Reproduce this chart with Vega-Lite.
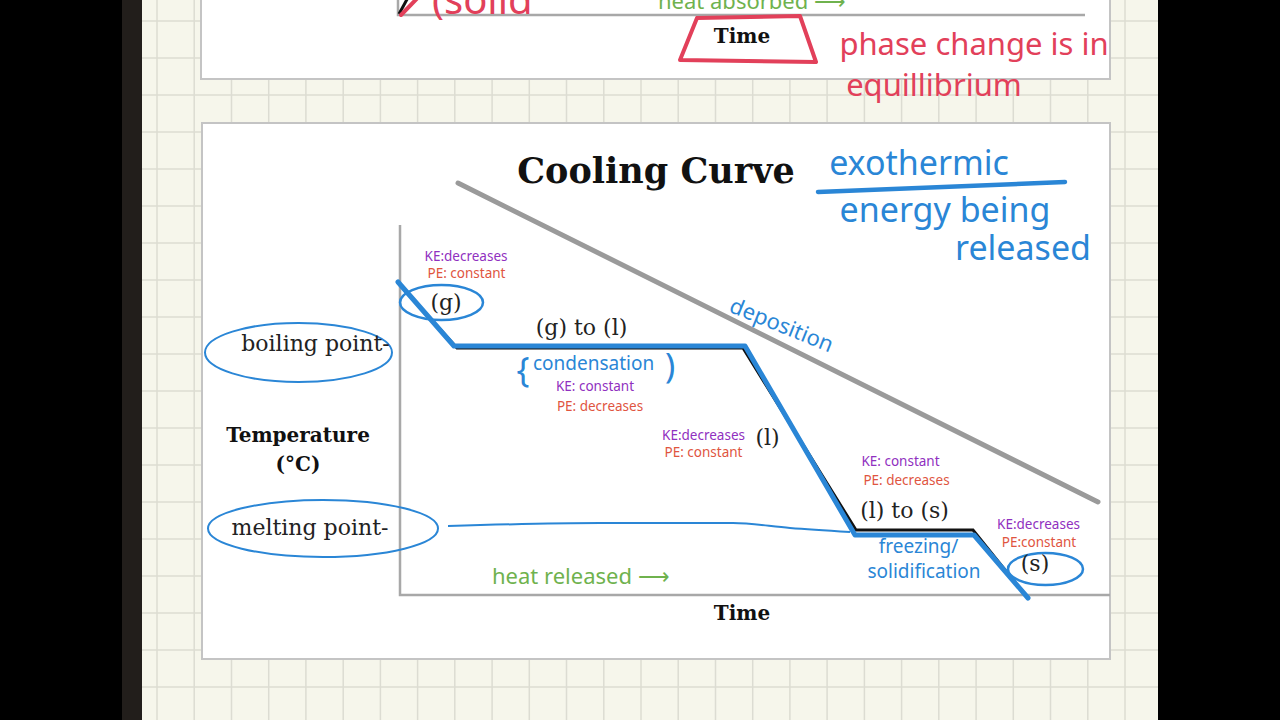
{
  "$schema": "https://vega.github.io/schema/vega-lite/v6.json",
  "width": 1280,
  "height": 720,
  "autosize": {"type": "none"},
  "padding": 0,
  "background": "#000000",
  "config": {"view": {"stroke": null}},
  "datasets": {
    "rects": [
      {"n": "strip", "t": -27.8, "temp": 119, "t2": -25.8, "temp2": -25},
      {"n": "paper", "t": -25.8, "temp": 119, "t2": 75.8, "temp2": -25},
      {"n": "card", "t": -19.9, "temp": 121, "t2": 71, "temp2": 103.2},
      {"n": "card", "t": -19.8, "temp": 94.4, "t2": 71, "temp2": -12.8}
    ],
    "grid": [
      {"t": -24.3, "temp": 119, "t2": -24.3, "temp2": -25},
      {"t": -20.58, "temp": 119, "t2": -20.58, "temp2": -25},
      {"t": -16.85, "temp": 119, "t2": -16.85, "temp2": -25},
      {"t": -13.13, "temp": 119, "t2": -13.13, "temp2": -25},
      {"t": -9.41, "temp": 119, "t2": -9.41, "temp2": -25},
      {"t": -5.68, "temp": 119, "t2": -5.68, "temp2": -25},
      {"t": -1.96, "temp": 119, "t2": -1.96, "temp2": -25},
      {"t": 1.76, "temp": 119, "t2": 1.76, "temp2": -25},
      {"t": 5.48, "temp": 119, "t2": 5.48, "temp2": -25},
      {"t": 9.21, "temp": 119, "t2": 9.21, "temp2": -25},
      {"t": 12.93, "temp": 119, "t2": 12.93, "temp2": -25},
      {"t": 16.65, "temp": 119, "t2": 16.65, "temp2": -25},
      {"t": 20.38, "temp": 119, "t2": 20.38, "temp2": -25},
      {"t": 24.1, "temp": 119, "t2": 24.1, "temp2": -25},
      {"t": 27.82, "temp": 119, "t2": 27.82, "temp2": -25},
      {"t": 31.55, "temp": 119, "t2": 31.55, "temp2": -25},
      {"t": 35.27, "temp": 119, "t2": 35.27, "temp2": -25},
      {"t": 38.99, "temp": 119, "t2": 38.99, "temp2": -25},
      {"t": 42.71, "temp": 119, "t2": 42.71, "temp2": -25},
      {"t": 46.44, "temp": 119, "t2": 46.44, "temp2": -25},
      {"t": 50.16, "temp": 119, "t2": 50.16, "temp2": -25},
      {"t": 53.88, "temp": 119, "t2": 53.88, "temp2": -25},
      {"t": 57.61, "temp": 119, "t2": 57.61, "temp2": -25},
      {"t": 61.33, "temp": 119, "t2": 61.33, "temp2": -25},
      {"t": 65.05, "temp": 119, "t2": 65.05, "temp2": -25},
      {"t": 68.78, "temp": 119, "t2": 68.78, "temp2": -25},
      {"t": 72.5, "temp": 119, "t2": 72.5, "temp2": -25},
      {"t": -25.8, "temp": 114.8, "t2": 75.8, "temp2": 114.8},
      {"t": -25.8, "temp": 107.4, "t2": 75.8, "temp2": 107.4},
      {"t": -25.8, "temp": 100, "t2": 75.8, "temp2": 100},
      {"t": -25.8, "temp": 92.6, "t2": 75.8, "temp2": 92.6},
      {"t": -25.8, "temp": 85.2, "t2": 75.8, "temp2": 85.2},
      {"t": -25.8, "temp": 77.8, "t2": 75.8, "temp2": 77.8},
      {"t": -25.8, "temp": 70.4, "t2": 75.8, "temp2": 70.4},
      {"t": -25.8, "temp": 63, "t2": 75.8, "temp2": 63},
      {"t": -25.8, "temp": 55.6, "t2": 75.8, "temp2": 55.6},
      {"t": -25.8, "temp": 48.2, "t2": 75.8, "temp2": 48.2},
      {"t": -25.8, "temp": 40.8, "t2": 75.8, "temp2": 40.8},
      {"t": -25.8, "temp": 33.4, "t2": 75.8, "temp2": 33.4},
      {"t": -25.8, "temp": 26, "t2": 75.8, "temp2": 26},
      {"t": -25.8, "temp": 18.6, "t2": 75.8, "temp2": 18.6},
      {"t": -25.8, "temp": 11.2, "t2": 75.8, "temp2": 11.2},
      {"t": -25.8, "temp": 3.8, "t2": 75.8, "temp2": 3.8},
      {"t": -25.8, "temp": -3.6, "t2": 75.8, "temp2": -3.6},
      {"t": -25.8, "temp": -11, "t2": 75.8, "temp2": -11},
      {"t": -25.8, "temp": -18.4, "t2": 75.8, "temp2": -18.4}
    ],
    "lines": [
      {"s": "topAxis", "i": 0, "t": -0.2, "temp": 120},
      {"s": "topAxis", "i": 1, "t": -0.2, "temp": 116},
      {"s": "topAxis", "i": 2, "t": 68.5, "temp": 116},
      {"s": "mainAxes", "i": 0, "t": 0, "temp": 74},
      {"s": "mainAxes", "i": 1, "t": 0, "temp": 0},
      {"s": "mainAxes", "i": 2, "t": 71, "temp": 0},
      {"s": "prevBlack", "i": 0, "t": -0.1, "temp": 116.2},
      {"s": "prevBlack", "i": 1, "t": 0.8, "temp": 119.5},
      {"s": "prevRed", "i": 0, "t": 0.1, "temp": 116},
      {"s": "prevRed", "i": 1, "t": 1.8, "temp": 119.5},
      {"s": "trap", "i": 0, "t": 29.7, "temp": 115.4},
      {"s": "trap", "i": 1, "t": 40, "temp": 115.8},
      {"s": "trap", "i": 2, "t": 41.6, "temp": 106.6},
      {"s": "trap", "i": 3, "t": 28, "temp": 107},
      {"s": "trap", "i": 4, "t": 29.7, "temp": 115.4},
      {"s": "deposition", "i": 0, "t": 5.8, "temp": 82.4},
      {"s": "deposition", "i": 1, "t": 69.8, "temp": 18.6},
      {"s": "curveBlack", "i": 0, "t": 0.2, "temp": 61.6},
      {"s": "curveBlack", "i": 1, "t": 5.7, "temp": 49.4},
      {"s": "curveBlack", "i": 2, "t": 34.3, "temp": 49.4},
      {"s": "curveBlack", "i": 3, "t": 45.6, "temp": 13},
      {"s": "curveBlack", "i": 4, "t": 57.3, "temp": 13},
      {"s": "curveBlack", "i": 5, "t": 62.6, "temp": -0.2},
      {"s": "curveBlue", "i": 0, "t": -0.2, "temp": 62.6},
      {"s": "curveBlue", "i": 1, "t": 5.4, "temp": 49.8},
      {"s": "curveBlue", "i": 2, "t": 34.5, "temp": 49.8},
      {"s": "curveBlue", "i": 3, "t": 45.5, "temp": 12},
      {"s": "curveBlue", "i": 4, "t": 57.4, "temp": 12},
      {"s": "curveBlue", "i": 5, "t": 62.8, "temp": -0.6},
      {"s": "meltLine", "i": 0, "t": 4.8, "temp": 13.8},
      {"s": "meltLine", "i": 1, "t": 20, "temp": 14.4},
      {"s": "meltLine", "i": 2, "t": 33.3, "temp": 14.4},
      {"s": "meltLine", "i": 3, "t": 39, "temp": 13.4},
      {"s": "meltLine", "i": 4, "t": 45, "temp": 12.6},
      {"s": "exoUnder", "i": 0, "t": 41.8, "temp": 80.6},
      {"s": "exoUnder", "i": 1, "t": 66.5, "temp": 82.6}
    ],
    "ells": [
      {"e": "boil", "t": -10.15, "temp": 48.5},
      {"e": "melt", "t": -7.7, "temp": 13.3},
      {"e": "gas", "t": 4.15, "temp": 58.5},
      {"e": "solid", "t": 64.55, "temp": 5.2}
    ],
    "texts": [
      {"g": "title", "t": 25.6, "temp": 84.6, "label": "Cooling Curve"},
      {"g": "serifBold", "t": 34.2, "temp": -3.8, "label": "Time"},
      {"g": "serifBold", "t": -10.2, "temp": 31.8, "label": "Temperature"},
      {"g": "serifBold", "t": -10.2, "temp": 26, "label": "(°C)"},
      {"g": "serifBold", "t": 34.2, "temp": 111.6, "label": "Time"},
      {"g": "serif", "t": -8.45, "temp": 50.2, "label": "boiling point-"},
      {"g": "serif", "t": -9, "temp": 13.4, "label": "melting point-"},
      {"g": "serif", "t": 4.6, "temp": 58.4, "label": "(g)"},
      {"g": "serif", "t": 18.15, "temp": 53.4, "label": "(g) to (l)"},
      {"g": "serif", "t": 36.75, "temp": 31.4, "label": "(l)"},
      {"g": "serif", "t": 50.45, "temp": 16.8, "label": "(l) to (s)"},
      {"g": "serif", "t": 63.5, "temp": 6.2, "label": "(s)"},
      {"g": "ke", "t": 6.6, "temp": 67.6, "label": "KE:decreases"},
      {"g": "ke", "t": 19.5, "temp": 41.6, "label": "KE: constant"},
      {"g": "ke", "t": 30.35, "temp": 31.8, "label": "KE:decreases"},
      {"g": "ke", "t": 50.05, "temp": 26.6, "label": "KE: constant"},
      {"g": "ke", "t": 63.85, "temp": 14, "label": "KE:decreases"},
      {"g": "pe", "t": 6.65, "temp": 64.2, "label": "PE: constant"},
      {"g": "pe", "t": 20, "temp": 37.6, "label": "PE: decreases"},
      {"g": "pe", "t": 30.35, "temp": 28.4, "label": "PE: constant"},
      {"g": "pe", "t": 50.65, "temp": 22.8, "label": "PE: decreases"},
      {"g": "pe", "t": 63.9, "temp": 10.4, "label": "PE:constant"},
      {"g": "blueMed", "t": 19.35, "temp": 46.2, "label": "condensation"},
      {"g": "blueMed", "t": 51.85, "temp": 9.6, "label": "freezing/"},
      {"g": "blueMed", "t": 52.4, "temp": 4.6, "label": "solidification"},
      {"g": "bracket", "t": 12.3, "temp": 44.6, "label": "{"},
      {"g": "bracket", "t": 27, "temp": 45.4, "label": ")"},
      {"g": "depo", "t": 38.15, "temp": 53.9, "label": "deposition"},
      {"g": "blueBig", "t": 51.9, "temp": 86, "label": "exothermic"},
      {"g": "blueBig", "t": 54.5, "temp": 76.6, "label": "energy being"},
      {"g": "blueBig", "t": 62.3, "temp": 69, "label": "released"},
      {"g": "green", "t": 9.2, "temp": 3.6, "label": "heat released  ⟶"},
      {"g": "greenTop", "t": 25.8, "temp": 117.2, "label": "heat absorbed  ⟶"},
      {"g": "redTop", "t": 3.2, "temp": 116.2, "label": "(solid"},
      {"g": "redBig", "t": 57.4, "temp": 109.8, "label": "phase change is in"},
      {"g": "redBig", "t": 53.4, "temp": 101.6, "label": "equillibrium"}
    ]
  },
  "encoding": {
    "x": {"field": "t", "type": "quantitative", "scale": {"domain": [-40, 88], "nice": false, "zero": false}, "axis": null},
    "y": {"field": "temp", "type": "quantitative", "scale": {"domain": [-25, 119], "nice": false, "zero": false}, "axis": null}
  },
  "layer": [
    {"data": {"name": "rects"}, "transform": [{"filter": "datum.n == 'strip'"}], "mark": {"type": "rect", "fill": "#221e1b"}, "encoding": {"x2": {"field": "t2"}, "y2": {"field": "temp2"}}},
    {"data": {"name": "rects"}, "transform": [{"filter": "datum.n == 'paper'"}], "mark": {"type": "rect", "fill": "#f6f6eb"}, "encoding": {"x2": {"field": "t2"}, "y2": {"field": "temp2"}}},
    {"data": {"name": "grid"}, "mark": {"type": "rule", "color": "#dcdcd2", "strokeWidth": 1.5}, "encoding": {"x2": {"field": "t2"}, "y2": {"field": "temp2"}}},
    {"data": {"name": "rects"}, "transform": [{"filter": "datum.n == 'card'"}], "mark": {"type": "rect", "fill": "#ffffff", "stroke": "#c4c4c4", "strokeWidth": 2}, "encoding": {"x2": {"field": "t2"}, "y2": {"field": "temp2"}}},
    {"data": {"name": "lines"}, "transform": [{"filter": "datum.s == 'topAxis' || datum.s == 'mainAxes'"}], "mark": {"type": "line", "color": "#a8a8a8", "strokeWidth": 2.5}, "encoding": {"detail": {"field": "s"}, "order": {"field": "i", "type": "quantitative"}}},
    {"data": {"name": "lines"}, "transform": [{"filter": "datum.s == 'deposition'"}], "mark": {"type": "line", "color": "#9a9a9a", "strokeWidth": 5, "strokeCap": "round"}, "encoding": {"order": {"field": "i", "type": "quantitative"}}},
    {"data": {"name": "lines"}, "transform": [{"filter": "datum.s == 'prevBlack'"}], "mark": {"type": "line", "color": "#111111", "strokeWidth": 3}, "encoding": {"order": {"field": "i", "type": "quantitative"}}},
    {"data": {"name": "lines"}, "transform": [{"filter": "datum.s == 'prevRed' || datum.s == 'trap'"}], "mark": {"type": "line", "color": "#e2405a", "strokeWidth": 4, "strokeCap": "round", "strokeJoin": "round"}, "encoding": {"detail": {"field": "s"}, "order": {"field": "i", "type": "quantitative"}}},
    {"data": {"name": "lines"}, "transform": [{"filter": "datum.s == 'curveBlack'"}], "mark": {"type": "line", "color": "#111111", "strokeWidth": 3}, "encoding": {"order": {"field": "i", "type": "quantitative"}}},
    {"data": {"name": "lines"}, "transform": [{"filter": "datum.s == 'curveBlue'"}], "mark": {"type": "line", "color": "#2a86d6", "strokeWidth": 5, "strokeCap": "round", "strokeJoin": "round"}, "encoding": {"order": {"field": "i", "type": "quantitative"}}},
    {"data": {"name": "lines"}, "transform": [{"filter": "datum.s == 'meltLine'"}], "mark": {"type": "line", "color": "#2a86d6", "strokeWidth": 2, "interpolate": "monotone"}, "encoding": {"order": {"field": "i", "type": "quantitative"}}},
    {"data": {"name": "lines"}, "transform": [{"filter": "datum.s == 'exoUnder'"}], "mark": {"type": "line", "color": "#2a86d6", "strokeWidth": 4.5, "strokeCap": "round"}, "encoding": {"order": {"field": "i", "type": "quantitative"}}},
    {"data": {"name": "ells"}, "transform": [{"filter": "datum.e == 'boil'"}], "mark": {"type": "point", "shape": "M-1,0A1,0.3155,0,1,1,1,0A1,0.3155,0,1,1,-1,0Z", "size": 34969, "filled": false, "stroke": "#2a86d6", "strokeWidth": 2, "opacity": 1}},
    {"data": {"name": "ells"}, "transform": [{"filter": "datum.e == 'melt'"}], "mark": {"type": "point", "shape": "M-1,0A1,0.248,0,1,1,1,0A1,0.248,0,1,1,-1,0Z", "size": 52900, "filled": false, "stroke": "#2a86d6", "strokeWidth": 2, "opacity": 1}},
    {"data": {"name": "ells"}, "transform": [{"filter": "datum.e == 'gas'"}], "mark": {"type": "point", "shape": "M-1,0A1,0.42,0,1,1,1,0A1,0.42,0,1,1,-1,0Z", "size": 6889, "filled": false, "stroke": "#2a86d6", "strokeWidth": 2.5, "opacity": 1}},
    {"data": {"name": "ells"}, "transform": [{"filter": "datum.e == 'solid'"}], "mark": {"type": "point", "shape": "M-1,0A1,0.427,0,1,1,1,0A1,0.427,0,1,1,-1,0Z", "size": 5625, "filled": false, "stroke": "#2a86d6", "strokeWidth": 2.5, "opacity": 1}},
    {"data": {"name": "texts"}, "transform": [{"filter": "datum.g == 'title'"}], "mark": {"type": "text", "font": "DejaVu Serif", "fontWeight": "bold", "fontSize": 35, "color": "#111111", "align": "center", "baseline": "middle"}, "encoding": {"text": {"field": "label"}}},
    {"data": {"name": "texts"}, "transform": [{"filter": "datum.g == 'serifBold'"}], "mark": {"type": "text", "font": "DejaVu Serif", "fontWeight": "bold", "fontSize": 20, "color": "#111111", "align": "center", "baseline": "middle"}, "encoding": {"text": {"field": "label"}}},
    {"data": {"name": "texts"}, "transform": [{"filter": "datum.g == 'serif'"}], "mark": {"type": "text", "font": "DejaVu Serif", "fontSize": 22, "color": "#222222", "align": "center", "baseline": "middle"}, "encoding": {"text": {"field": "label"}}},
    {"data": {"name": "texts"}, "transform": [{"filter": "datum.g == 'ke'"}], "mark": {"type": "text", "font": "Noto Sans", "fontSize": 13.5, "color": "#9030c0", "align": "center", "baseline": "middle"}, "encoding": {"text": {"field": "label"}}},
    {"data": {"name": "texts"}, "transform": [{"filter": "datum.g == 'pe'"}], "mark": {"type": "text", "font": "Noto Sans", "fontSize": 13.5, "color": "#e0553f", "align": "center", "baseline": "middle"}, "encoding": {"text": {"field": "label"}}},
    {"data": {"name": "texts"}, "transform": [{"filter": "datum.g == 'blueMed'"}], "mark": {"type": "text", "font": "Noto Sans", "fontSize": 19, "color": "#2a86d6", "align": "center", "baseline": "middle"}, "encoding": {"text": {"field": "label"}}},
    {"data": {"name": "texts"}, "transform": [{"filter": "datum.g == 'bracket'"}], "mark": {"type": "text", "font": "Noto Sans", "fontSize": 34, "color": "#2a86d6", "align": "center", "baseline": "middle"}, "encoding": {"text": {"field": "label"}}},
    {"data": {"name": "texts"}, "transform": [{"filter": "datum.g == 'depo'"}], "mark": {"type": "text", "font": "Noto Sans", "fontSize": 22, "color": "#2a86d6", "align": "center", "baseline": "middle", "angle": 22}, "encoding": {"text": {"field": "label"}}},
    {"data": {"name": "texts"}, "transform": [{"filter": "datum.g == 'blueBig'"}], "mark": {"type": "text", "font": "Noto Sans", "fontSize": 34, "color": "#2a86d6", "align": "center", "baseline": "middle"}, "encoding": {"text": {"field": "label"}}},
    {"data": {"name": "texts"}, "transform": [{"filter": "datum.g == 'green'"}], "mark": {"type": "text", "font": "Noto Sans", "fontSize": 22, "color": "#6fb24e", "align": "left", "baseline": "middle"}, "encoding": {"text": {"field": "label"}}},
    {"data": {"name": "texts"}, "transform": [{"filter": "datum.g == 'greenTop'"}], "mark": {"type": "text", "font": "Noto Sans", "fontSize": 22, "color": "#6fb24e", "align": "left", "baseline": "alphabetic"}, "encoding": {"text": {"field": "label"}}},
    {"data": {"name": "texts"}, "transform": [{"filter": "datum.g == 'redTop'"}], "mark": {"type": "text", "font": "Noto Sans", "fontSize": 40, "color": "#e2405a", "align": "left", "baseline": "alphabetic"}, "encoding": {"text": {"field": "label"}}},
    {"data": {"name": "texts"}, "transform": [{"filter": "datum.g == 'redBig'"}], "mark": {"type": "text", "font": "Noto Sans", "fontSize": 31, "color": "#e2405a", "align": "center", "baseline": "middle"}, "encoding": {"text": {"field": "label"}}}
  ]
}
